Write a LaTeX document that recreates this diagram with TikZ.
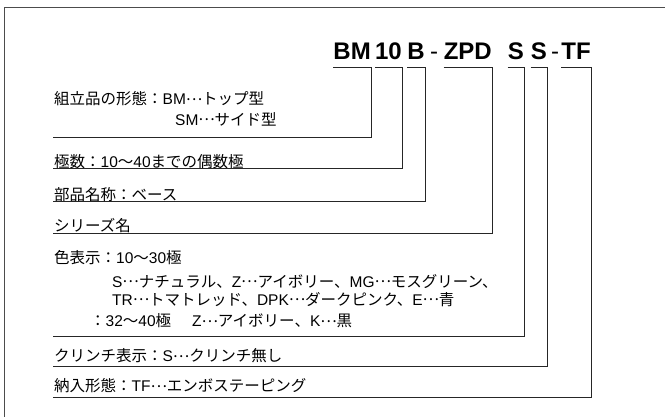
\documentclass[tikz,border=0pt]{standalone}
\usepackage{fontspec}
\setmainfont{Liberation Sans}
\newfontfamily\jpfont{Noto Sans CJK JP}
\newcommand\latn[1]{{\rmfamily#1}}
\newcommand\tdots{\makebox[1.05em]{\raisebox{0.3em}{…}}}

\begin{document}
\begin{tikzpicture}
		[x=1pt,y=-1pt,
		code node/.style={draw=none,fill=none,inner sep=0pt,anchor=base east,font=\fontsize{24}{28}\selectfont\bfseries},
		dash node/.style={draw=none,fill=none,inner sep=0pt,anchor=base west,font=\fontsize{24}{28}\selectfont},
		text node/.style={draw=none,fill=none,inner sep=0pt,anchor=west,font=\jpfont\fontsize{15.5}{18.5}\selectfont},
		rule/.style={draw=black!85,line width=0.8pt}]
		\def \codey {60}
		\useasboundingbox (0,0) rectangle (665,417);
		\draw[draw=black!70,line width=1pt] (4,417) -- (4,8) -- (665,8);
		
		% part number
		\node[code node] (bm) at (371,\codey) {BM};
		\node[code node] (ten) at (402,\codey) {10};
		\node[code node] (b) at (425,\codey) {B};
		\node[dash node] (d1) at (430,\codey) {-};
		\node[code node] (zpd) at (492,\codey) {ZPD};
		\node[code node] (s1) at (524,\codey) {S};
		\node[code node] (s2) at (547,\codey) {S};
		\node[dash node] (d2) at (551,\codey) {-};
		\node[code node] (tf) at (591,\codey) {TF};
		
		\coordinate (l1) at (53,137);
		\coordinate (l2) at (53,168);
		\coordinate (l3) at (53,201.5);
		\coordinate (l4) at (53,233);
		\coordinate (l5) at (53,336);
		\coordinate (l6) at (53,366.5);
		\coordinate (l7) at (53,397);
		
		% descriptions
		\node[text node] (form) at (54,99) {組立品の形態：\latn{BM}\tdots トップ型};
		\node[text node] (form2) at (175,119) {\latn{SM}\tdots サイド型};
		\node[text node] (pole) at (54,161.5) {極数：\latn{10}～\latn{40}までの偶数極};
		\node[text node] (part) at (54,194.5) {部品名称：ベース};
		\node[text node] (series) at (54,226) {シリーズ名};
		\node[text node] (color) at (54,257.5) {色表示：\latn{10}～\latn{30}極};
		\node[text node,align=left] (color2) at (112,290.5) {\latn{S}\tdots ナチュラル、\latn{Z}\tdots アイボリー、\latn{MG}\tdots モスグリーン、\\\latn{TR}\tdots トマトレッド、\latn{DPK}\tdots ダークピンク、\latn{E}\tdots 青};
		\node[text node] (color4) at (90,321) {：\latn{32}～\latn{40}極};
		\node[text node] (color5) at (192,321) {\latn{Z}\tdots アイボリー、\latn{K}\tdots 黒};
		\node[text node] (clinch) at (54,356) {クリンチ表示：\latn{S}\tdots クリンチ無し};
		\node[text node] (pack) at (54,386) {納入形態：\latn{TF}\tdots エンボステーピング};
		
		\draw[rule] ([yshift=-7pt]bm.south west) -- ([yshift=-7pt]bm.south east) |- (l1);
		\draw[rule] ([yshift=-7pt]ten.south west) -- ([yshift=-7pt]ten.south east) |- (l2);
		\draw[rule] ([yshift=-7pt]b.south west) -- ([yshift=-7pt]b.south east) |- (l3);
		\draw[rule] ([yshift=-7pt]zpd.south west) -- ([yshift=-7pt]zpd.south east) |- (l4);
		\draw[rule] ([yshift=-7pt]s1.south west) -- ([yshift=-7pt]s1.south east) |- (l5);
		\draw[rule] ([yshift=-7pt]s2.south west) -- ([yshift=-7pt]s2.south east) |- (l6);
		\draw[rule] ([yshift=-7pt]tf.south west) -- ([yshift=-7pt]tf.south east) |- (l7);
		\end{tikzpicture}
\end{document}
